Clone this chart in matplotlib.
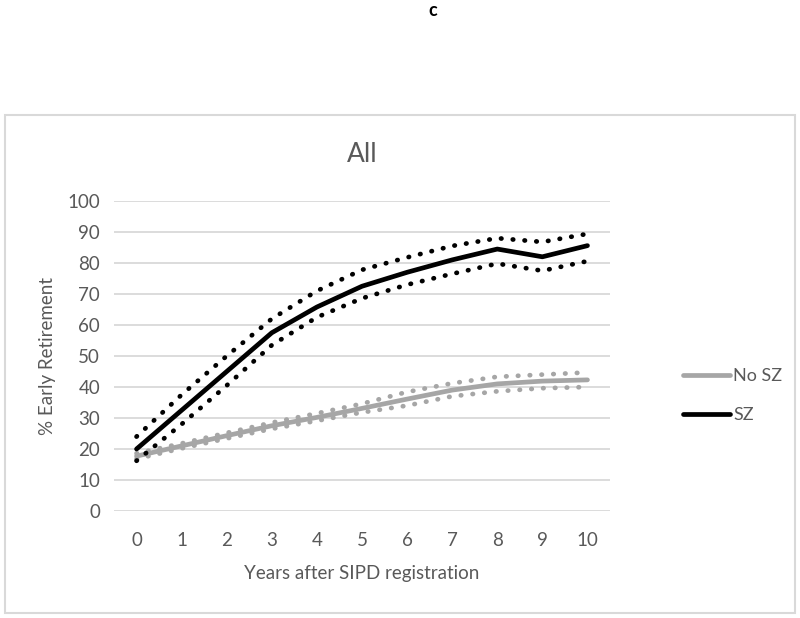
import matplotlib.pyplot as plt
from matplotlib.patches import Rectangle

years = list(range(11))

# SZ: mean and confidence band
sz_mean = [20, 32.5, 45, 57.5, 65.8, 72.5, 77, 81, 84.5, 82, 85.6]
sz_upper = [24, 37.5, 50, 62, 71, 77.8, 81.8, 85.5, 88, 86.8, 89.4]
sz_lower = [16.2, 28, 40.5, 53.5, 62.5, 68.6, 73, 76.5, 79.8, 77.5, 80.6]

# No SZ: mean and confidence band
nosz_mean = [17.7, 21, 24.3, 27.5, 30.2, 33.1, 36.1, 39, 41, 41.9, 42.3]
nosz_upper = [18.6, 21.8, 25.2, 28.5, 31.5, 34.6, 38.4, 41.2, 43.3, 44, 44.7]
nosz_lower = [16.8, 20.2, 23.4, 26.5, 29.1, 31.8, 34, 37, 38.6, 39.6, 40]

label_color = "#595959"
gray = "#a6a6a6"
dots = (0, (0.1, 2.4))

fig = plt.figure(figsize=(8, 6.18), dpi=100)
fig.patches.append(Rectangle((5 / 800, 1 - 613 / 618), 790 / 800, 498 / 618,
                             transform=fig.transFigure, fill=False,
                             edgecolor="#d9d9d9", linewidth=1.5))

ax = fig.add_axes([114 / 800, 1 - 511 / 618, 496 / 800, 310 / 618])

ax.plot(years, nosz_upper, color=gray, linestyle=dots, linewidth=3.4,
        dash_capstyle="round")
ax.plot(years, nosz_lower, color=gray, linestyle=dots, linewidth=3.4,
        dash_capstyle="round")
ax.plot(years, nosz_mean, color=gray, linewidth=3.4, label="No SZ",
        solid_capstyle="round")

ax.plot(years, sz_upper, color="black", linestyle=dots, linewidth=3.4,
        dash_capstyle="round")
ax.plot(years, sz_lower, color="black", linestyle=dots, linewidth=3.4,
        dash_capstyle="round")
ax.plot(years, sz_mean, color="black", linewidth=3.4, label="SZ",
        solid_capstyle="round")

ax.set_xlim(-0.5, 10.5)
ax.set_ylim(0, 100)
ax.set_yticks(range(0, 101, 10))
ax.set_xticks(years)
ax.grid(axis="y", color="#d9d9d9", linewidth=1.3)
ax.set_axisbelow(True)
for s in ax.spines.values():
    s.set_visible(False)
ax.tick_params(length=0, labelsize=13.5, labelcolor=label_color)
ax.tick_params(axis="x", pad=15)
ax.tick_params(axis="y", pad=10)
for lab in ax.get_xticklabels() + ax.get_yticklabels():
    lab.set_fontfamily("Lato")

ax.set_xlabel("Years after SIPD registration", fontsize=13.5, color=label_color,
              family="Lato", labelpad=12)
ax.set_ylabel("% Early Retirement", fontsize=13.5, color=label_color,
              family="Lato", labelpad=8)
ax.set_title("All", fontsize=19, color=label_color, family="Lato", pad=28)

leg = ax.legend(loc="center left", bbox_to_anchor=(1.114, 0.372), frameon=False,
                handlelength=2.6, labelspacing=1.3, handletextpad=0.2,
                prop={"family": "Lato", "size": 13})
for t in leg.get_texts():
    t.set_color(label_color)

fig.text(433 / 800, 1 - 10 / 618, "c", fontsize=13, fontweight="bold",
         ha="center", va="center", family="Lato")

fig.savefig("out.png", dpi=100)
